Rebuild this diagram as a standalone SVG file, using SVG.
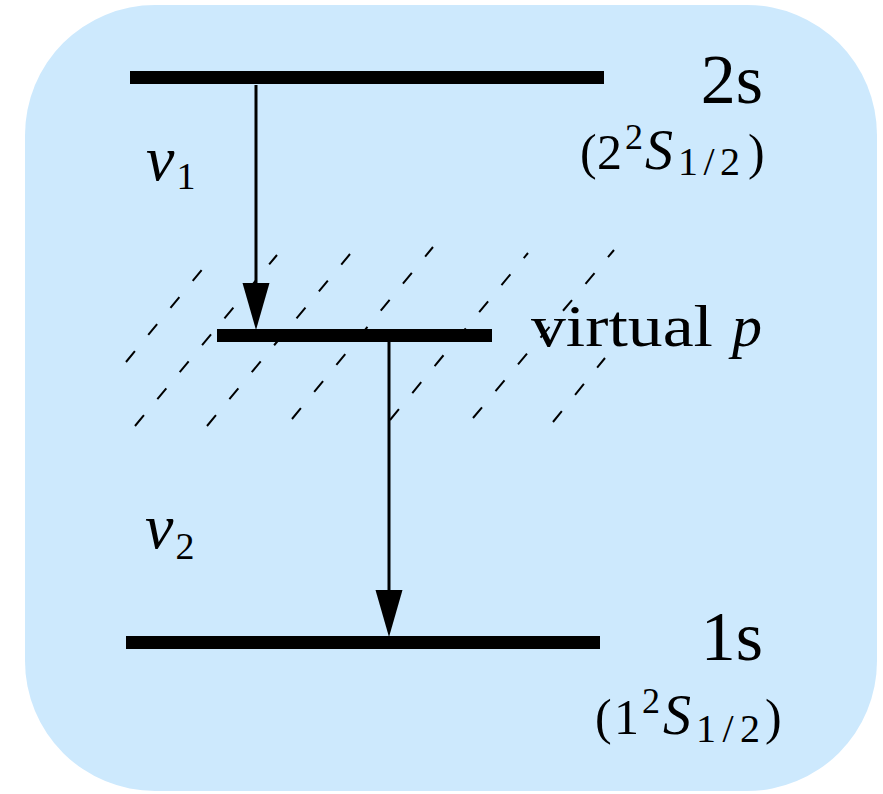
<svg xmlns="http://www.w3.org/2000/svg" width="883" height="794" viewBox="0 0 883 794">
  <defs>
    <marker id="head" markerUnits="userSpaceOnUse" viewBox="0 -14 48 28" refX="0" refY="0" markerWidth="48" markerHeight="28" orient="auto">
      <path d="M0,-13.5 L47,0 L0,13.5 Z" fill="#000"/>
    </marker>
    <style>
      .bg { fill: #cde9fd; }
      .bar { fill: #000; }
      .hatch { stroke: #000; stroke-width: 2; stroke-dasharray: 14 21; fill: none; }
      .arrow { stroke: #000; stroke-width: 3; fill: none; marker-end: url(#head); }
      .rm { font-family: "Liberation Serif", "DejaVu Serif", serif; fill: #000; }
      .it { font-family: "Liberation Serif", "DejaVu Serif", serif; font-style: italic; fill: #000; }
    </style>
  </defs>

  <rect class="bg" x="25" y="5" width="852" height="786" rx="130" ry="130"/>

  <g id="virtual-region">
    <line class="hatch" x1="126" y1="362" x2="205" y2="266"/>
    <line class="hatch" x1="135" y1="426" x2="277" y2="255"/>
    <line class="hatch" x1="207" y1="426" x2="350" y2="254"/>
    <line class="hatch" x1="292" y1="419" x2="433" y2="247"/>
    <line class="hatch" x1="390" y1="420" x2="528" y2="253"/>
    <line class="hatch" x1="473" y1="418" x2="614" y2="250"/>
    <line class="hatch" x1="553" y1="422" x2="605" y2="358"/>
  </g>

  <g id="level-2s">
    <rect class="bar" x="130" y="71" width="474" height="13"/>
    <text class="rm" x="763" y="103" font-size="70" text-anchor="end">2s</text>
    <text class="rm" font-size="50"><tspan x="580" y="169">(</tspan><tspan x="597" y="169">2</tspan><tspan x="625" y="149" font-size="36">2</tspan><tspan class="it" x="645" y="169" font-size="56" font-style="italic">S</tspan><tspan x="678" y="175" font-size="40" textLength="62" lengthAdjust="spacing">1/2</tspan><tspan x="748" y="169">)</tspan></text>
  </g>

  <g id="level-virtual">
    <rect class="bar" x="217" y="329" width="275" height="13"/>
    <text class="rm" x="531" y="346" font-size="60" textLength="182" lengthAdjust="spacingAndGlyphs">virtual</text>
    <text class="it" x="732" y="346" font-size="60">p</text>
  </g>

  <g id="level-1s">
    <rect class="bar" x="126" y="636" width="474" height="13"/>
    <text class="rm" x="763" y="660" font-size="70" text-anchor="end">1s</text>
    <text class="rm" font-size="50"><tspan x="595" y="734">(</tspan><tspan x="614" y="734">1</tspan><tspan x="642" y="713" font-size="36">2</tspan><tspan class="it" x="663" y="734" font-size="56" font-style="italic">S</tspan><tspan x="696" y="742" font-size="40" textLength="64" lengthAdjust="spacing">1/2</tspan><tspan x="765" y="734">)</tspan></text>
  </g>

  <g id="connectors">
    <line class="arrow" x1="256" y1="85" x2="256" y2="283"/>
    <line class="arrow" x1="389" y1="342" x2="389" y2="590"/>
  </g>

  <g id="label-nu1">
    <text class="it" x="146" y="180" font-size="64">ν<tspan class="rm" font-style="normal" font-size="38" dx="2" dy="9">1</tspan></text>
  </g>
  <g id="label-nu2">
    <text class="it" x="145" y="548" font-size="64">ν<tspan class="rm" font-style="normal" font-size="38" dx="2" dy="11">2</tspan></text>
  </g>
</svg>
